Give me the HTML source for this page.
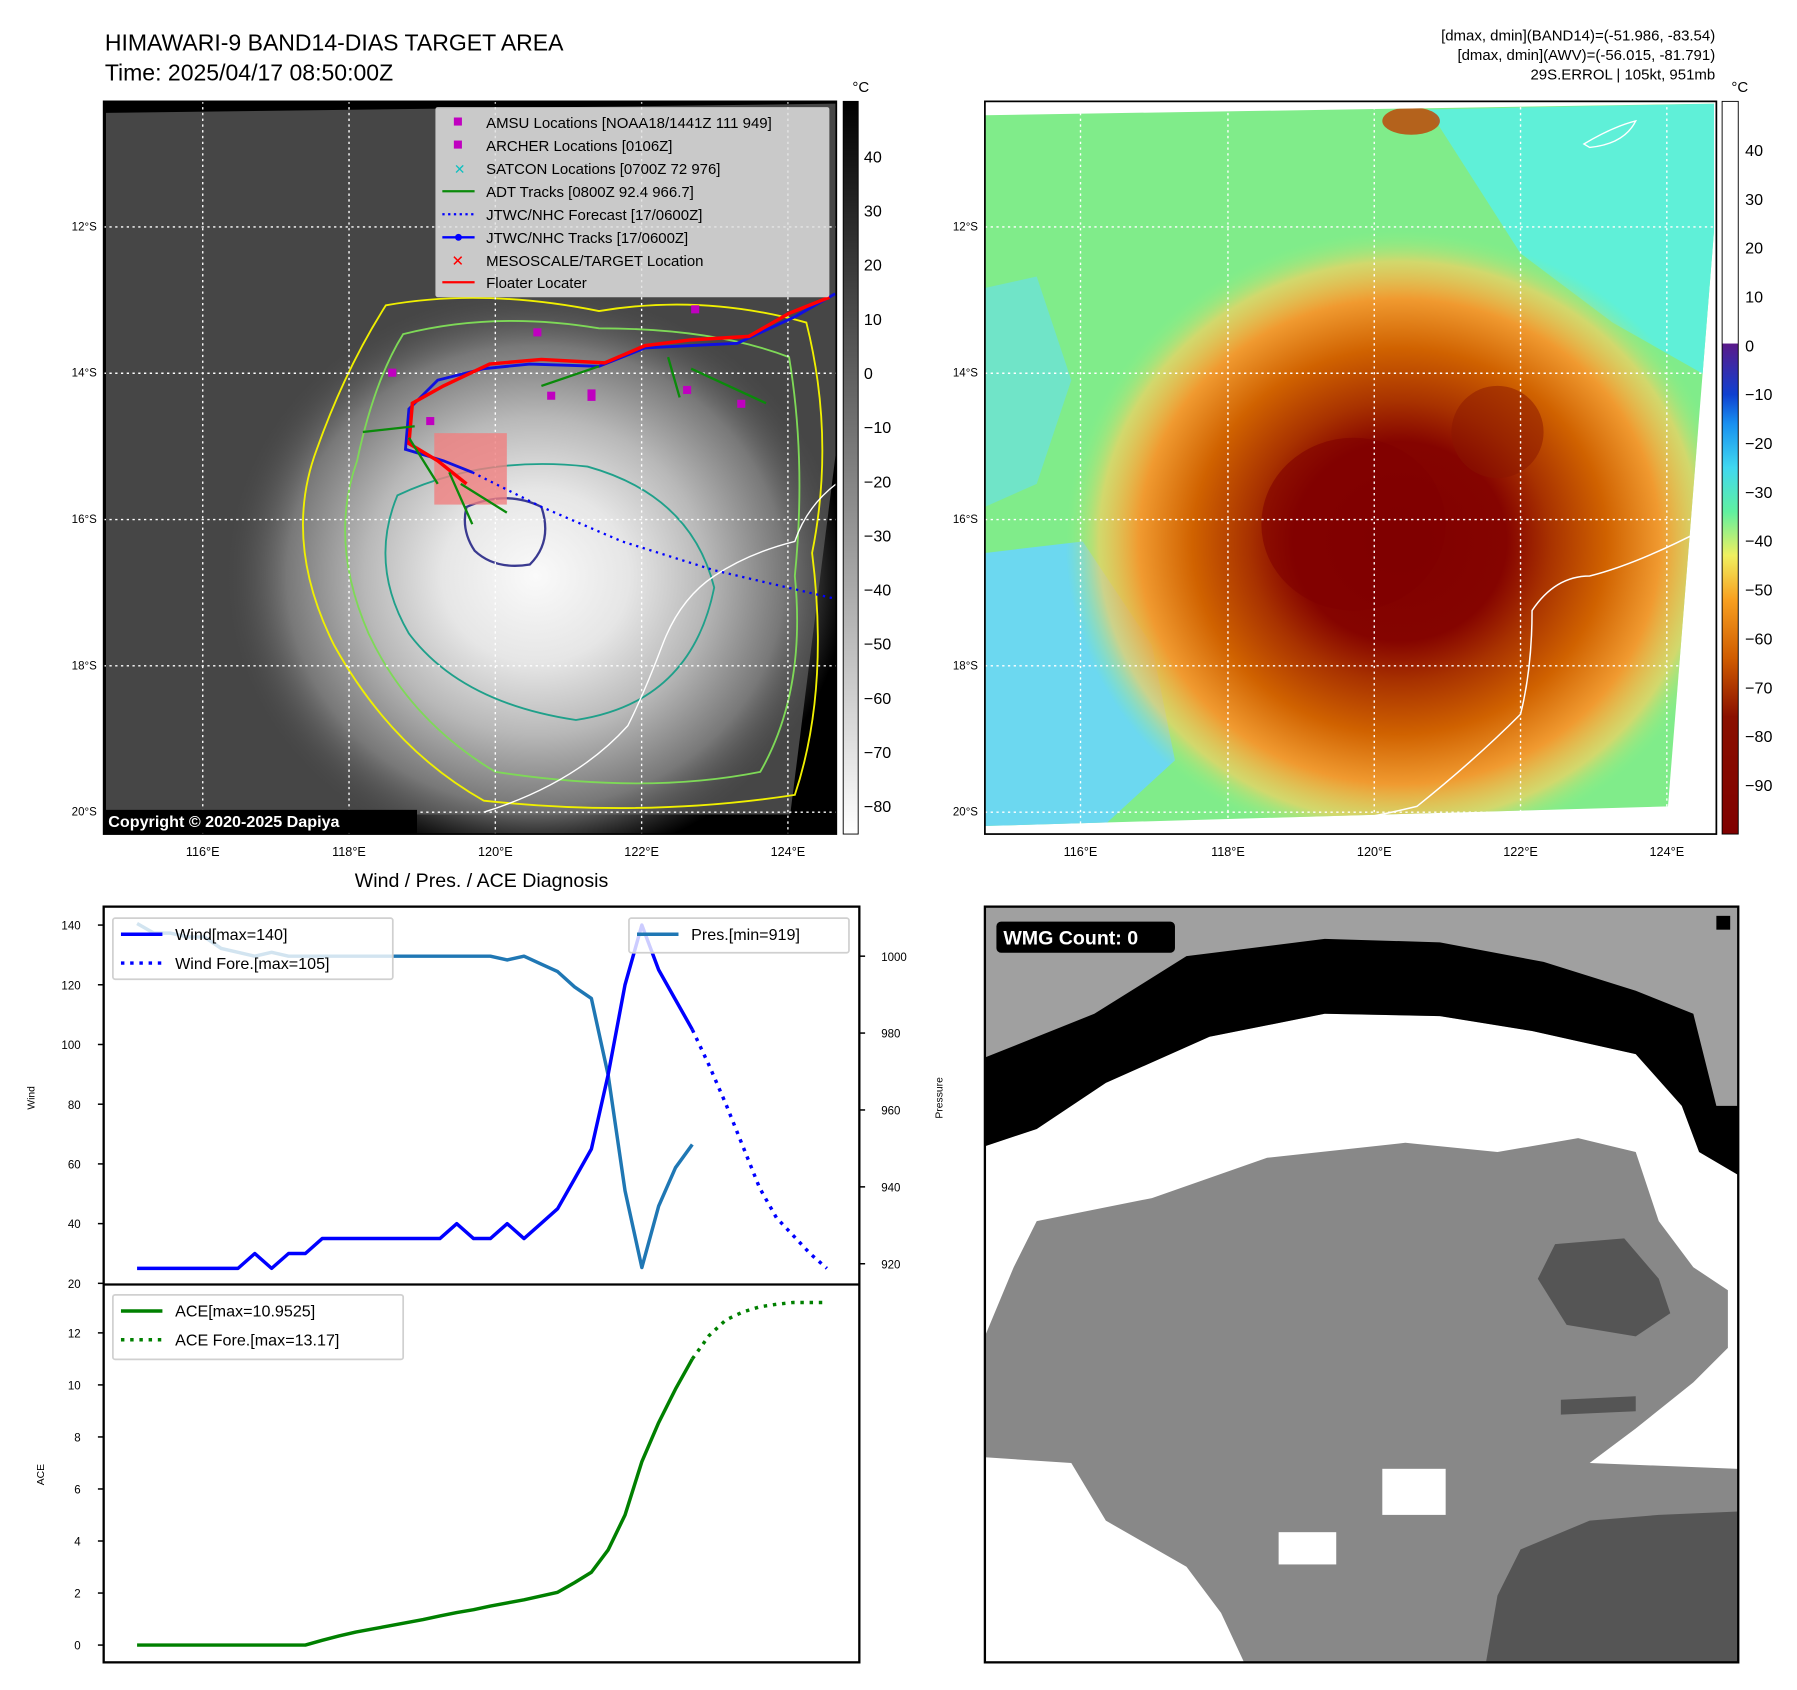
<!DOCTYPE html>
<html><head><meta charset="utf-8"><style>
html,body{margin:0;padding:0;background:#fff}
svg{display:block}
text{font-family:"Liberation Sans","DejaVu Sans",sans-serif}
</style></head><body>
<svg id="fig" width="1797" height="1690" viewBox="0 0 1560 1467" preserveAspectRatio="none" xmlns="http://www.w3.org/2000/svg">
<defs>
<clipPath id="clipL"><rect x="90" y="88" width="636" height="636"/></clipPath>
<clipPath id="clipR"><polygon points="855,100 1488,90 1488,200 1448,700 855,717"/></clipPath>
<radialGradient id="irGlow" cx="0.5" cy="0.5" r="0.5">
<stop offset="0" stop-color="#fafafa"/><stop offset="0.3" stop-color="#e6e6e6"/><stop offset="0.55" stop-color="#b8b8b8"/><stop offset="0.8" stop-color="#787878"/><stop offset="1" stop-color="#4a4a4a" stop-opacity="0"/>
</radialGradient>
<radialGradient id="awv" cx="0.5" cy="0.5" r="0.5">
<stop offset="0" stop-color="#800000"/><stop offset="0.32" stop-color="#850400"/><stop offset="0.45" stop-color="#a83200"/><stop offset="0.62" stop-color="#d06200"/><stop offset="0.78" stop-color="#f09a30"/><stop offset="0.9" stop-color="#f4d060" stop-opacity="0.7"/><stop offset="1" stop-color="#90f080" stop-opacity="0"/>
</radialGradient>
<linearGradient id="cbGray" x1="0" y1="0" x2="0" y2="1"><stop offset="0" stop-color="#000"/><stop offset="1" stop-color="#fff"/></linearGradient>
<linearGradient id="cbAwv" x1="0" y1="0" x2="0" y2="1">
<stop offset="0" stop-color="#fff"/><stop offset="0.33" stop-color="#fff"/><stop offset="0.331" stop-color="#5a1a8a"/><stop offset="0.4" stop-color="#1040d0"/><stop offset="0.44" stop-color="#1890f0"/><stop offset="0.5" stop-color="#40d8f0"/><stop offset="0.56" stop-color="#60f0a0"/><stop offset="0.62" stop-color="#f0f060"/><stop offset="0.68" stop-color="#f8a020"/><stop offset="0.76" stop-color="#d05c00"/><stop offset="0.84" stop-color="#8a1000"/><stop offset="1" stop-color="#800000"/>
</linearGradient>
</defs>

<text x="91" y="44" font-size="20">HIMAWARI-9 BAND14-DIAS TARGET AREA</text>
<text x="91" y="70" font-size="20">Time: 2025/04/17 08:50:00Z</text>
<g font-size="13" text-anchor="end">
<text x="1489" y="35">[dmax, dmin](BAND14)=(-51.986, -83.54)</text>
<text x="1489" y="52">[dmax, dmin](AWV)=(-56.015, -81.791)</text>
<text x="1489" y="69">29S.ERROL | 105kt, 951mb</text>
</g>

<!-- LEFT MAP -->
<g>
<rect x="90" y="88" width="636" height="636" fill="#000"/>
<g clip-path="url(#clipL)">
<polygon points="92,98 726,90 726,390 686,707 92,707" fill="#464646"/>
<ellipse cx="465" cy="500" rx="270" ry="250" fill="url(#irGlow)"/>
<g fill="none" stroke-width="1.6">
<path d="M335,265 Q420,250 520,270 Q610,255 700,280 Q725,380 705,480 Q720,600 690,690 Q560,710 420,695 Q340,650 290,560 Q245,470 275,390 Q300,320 335,265Z" stroke="#f0f000"/>
<path d="M350,290 Q430,270 520,285 Q620,285 685,310 Q700,400 690,500 Q700,600 660,670 Q560,690 430,670 Q355,625 320,550 Q285,470 310,400 Q325,330 350,290Z" stroke="#7ed957"/>
<path d="M345,430 Q420,395 510,405 Q600,430 620,510 Q600,610 500,625 Q400,610 355,550 Q320,490 345,430Z" stroke="#1fa08a"/>
<path d="M405,440 Q440,425 470,440 Q480,470 460,490 Q430,495 412,478 Q400,460 405,440Z" stroke="#3a3a90" stroke-width="2"/>
</g>
<g stroke="#fff" stroke-width="1.2" stroke-dasharray="2,3">
<line x1="176" y1="88" x2="176" y2="724"/><line x1="303" y1="88" x2="303" y2="724"/><line x1="430" y1="88" x2="430" y2="724"/><line x1="557" y1="88" x2="557" y2="724"/><line x1="684" y1="88" x2="684" y2="724"/>
<line x1="90" y1="197" x2="726" y2="197"/><line x1="90" y1="324" x2="726" y2="324"/><line x1="90" y1="451" x2="726" y2="451"/><line x1="90" y1="578" x2="726" y2="578"/><line x1="90" y1="705" x2="726" y2="705"/>
</g>
<path d="M726,420 Q700,440 690,470 Q650,480 620,500 Q590,520 575,560 Q560,600 545,630 Q500,680 420,705" fill="none" stroke="#fff" stroke-width="1.2"/>
<rect x="377" y="376" width="63" height="62" fill="#f08080" opacity="0.8"/>
<polyline points="725,255 690,275 640,298 600,300 560,302 520,318 460,316 420,320 380,330 355,355 352,390 385,400 410,410" fill="none" stroke="#1010e0" stroke-width="2.5"/>
<polyline points="720,258 685,272 650,292 600,295 560,300 525,315 470,312 425,316 385,335 358,350 355,385 380,400 405,420" fill="none" stroke="#f00" stroke-width="3"/>
<g stroke="#0a8a0a" stroke-width="2">
<line x1="315" y1="375" x2="360" y2="370"/><line x1="355" y1="380" x2="380" y2="420"/><line x1="390" y1="410" x2="410" y2="455"/><line x1="400" y1="420" x2="440" y2="445"/><line x1="470" y1="335" x2="520" y2="318"/><line x1="580" y1="310" x2="590" y2="345"/><line x1="600" y1="320" x2="665" y2="350"/>
</g>
<polyline points="410,410 470,440 540,470 620,495 726,520" fill="none" stroke="#00f" stroke-width="2" stroke-dasharray="2,4"/>
<g fill="#c000c0">
<rect x="337" y="320" width="7" height="7"/><rect x="370" y="362" width="7" height="7"/><rect x="475" y="340" width="7" height="7"/><rect x="510" y="338" width="7" height="10"/><rect x="600" y="265" width="7" height="7"/><rect x="640" y="347" width="7" height="7"/><rect x="593" y="335" width="7" height="7"/><rect x="463" y="285" width="7" height="7"/>
</g>
</g>
<g>
<rect x="378" y="93" width="342" height="165" fill="#e0e0e0" opacity="0.85" rx="2"/>
<g font-size="13">
<rect x="394" y="102" width="7" height="7" fill="#c000c0"/><text x="422" y="111">AMSU Locations [NOAA18/1441Z 111 949]</text>
<rect x="394" y="122" width="7" height="7" fill="#c000c0"/><text x="422" y="131">ARCHER Locations [0106Z]</text>
<text x="394" y="151" fill="#10c0c0" font-size="12">✕</text><text x="422" y="151">SATCON Locations [0700Z 72 976]</text>
<line x1="384" y1="166" x2="412" y2="166" stroke="#0a8a0a" stroke-width="2"/><text x="422" y="171">ADT Tracks [0800Z 92.4 966.7]</text>
<line x1="384" y1="186" x2="412" y2="186" stroke="#00f" stroke-width="2" stroke-dasharray="2,3"/><text x="422" y="191">JTWC/NHC Forecast [17/0600Z]</text>
<line x1="384" y1="206" x2="412" y2="206" stroke="#00f" stroke-width="2"/><circle cx="398" cy="206" r="3" fill="#00f"/><text x="422" y="211">JTWC/NHC Tracks [17/0600Z]</text>
<text x="392" y="231" fill="#f00" font-size="13" font-weight="bold">✕</text><text x="422" y="231">MESOSCALE/TARGET Location</text>
<line x1="384" y1="245" x2="412" y2="245" stroke="#f00" stroke-width="2"/><text x="422" y="250">Floater Locater</text>
</g></g>
<rect x="90" y="703" width="272" height="20" fill="#000"/>
<text x="94" y="718" font-size="14" font-weight="bold" fill="#fff">Copyright © 2020-2025 Dapiya</text>
<rect x="90" y="88" width="636" height="636" fill="none" stroke="#000" stroke-width="1.5"/>
</g>
<g font-size="10" text-anchor="end">
<text x="84" y="200">12°S</text><text x="84" y="327">14°S</text><text x="84" y="454">16°S</text><text x="84" y="581">18°S</text><text x="84" y="708">20°S</text>
</g>
<g font-size="11" text-anchor="middle">
<text x="176" y="743">116°E</text><text x="303" y="743">118°E</text><text x="430" y="743">120°E</text><text x="557" y="743">122°E</text><text x="684" y="743">124°E</text>
</g>
<g>
<rect x="732" y="88" width="13" height="636" fill="url(#cbGray)" stroke="#000" stroke-width="0.8"/>
<text x="740" y="80" font-size="13">°C</text>
<g font-size="14" id="cb1"></g>
</g>

<!-- RIGHT MAP -->
<g>
<rect x="855" y="88" width="635" height="636" fill="#fff"/>
<g clip-path="url(#clipR)">
<rect x="855" y="88" width="635" height="636" fill="#80ec8a"/>
<polygon points="1240,95 1488,90 1488,330 1400,280 1320,220" fill="#5ff0d8"/>
<polygon points="855,250 900,240 930,330 900,420 855,440" fill="#70e4c8"/>
<polygon points="855,480 940,470 1000,560 1020,660 960,715 855,717" fill="#6cd8f0"/>
<ellipse cx="1215" cy="470" rx="290" ry="270" fill="url(#awv)"/>
<ellipse cx="1175" cy="455" rx="80" ry="75" fill="#800000" opacity="0.6"/>
<ellipse cx="1300" cy="375" rx="40" ry="40" fill="#8a1500" opacity="0.5"/>
<ellipse cx="1225" cy="105" rx="25" ry="12" fill="#c04000" opacity="0.8"/>
</g>
<g stroke="#fff" stroke-width="1.2" stroke-dasharray="2,3">
<line x1="938" y1="88" x2="938" y2="724"/><line x1="1066" y1="88" x2="1066" y2="724"/><line x1="1193" y1="88" x2="1193" y2="724"/><line x1="1320" y1="88" x2="1320" y2="724"/><line x1="1447" y1="88" x2="1447" y2="724"/>
<line x1="855" y1="197" x2="1490" y2="197"/><line x1="855" y1="324" x2="1490" y2="324"/><line x1="855" y1="451" x2="1490" y2="451"/><line x1="855" y1="578" x2="1490" y2="578"/><line x1="855" y1="705" x2="1490" y2="705"/>
</g>
<path d="M1478,460 Q1420,490 1380,500 Q1350,500 1330,530 Q1330,580 1320,620 Q1280,660 1230,700 Q1180,712 1150,715" fill="none" stroke="#fff" stroke-width="1.3"/>
<path d="M1375,125 Q1400,110 1420,105 Q1410,125 1380,128Z" fill="none" stroke="#fff" stroke-width="1.2"/>
<rect x="855" y="88" width="635" height="636" fill="none" stroke="#000" stroke-width="1.5"/>
</g>
<g font-size="10" text-anchor="end">
<text x="849" y="200">12°S</text><text x="849" y="327">14°S</text><text x="849" y="454">16°S</text><text x="849" y="581">18°S</text><text x="849" y="708">20°S</text>
</g>
<g font-size="11" text-anchor="middle">
<text x="938" y="743">116°E</text><text x="1066" y="743">118°E</text><text x="1193" y="743">120°E</text><text x="1320" y="743">122°E</text><text x="1447" y="743">124°E</text>
</g>
<g>
<rect x="1495" y="88" width="14" height="636" fill="url(#cbAwv)" stroke="#000" stroke-width="0.8"/>
<text x="1503" y="80" font-size="13">°C</text>
<g font-size="14" id="cb2"></g>
</g>

<!-- BOTTOM RIGHT -->
<g>
<rect x="855" y="787" width="654" height="656" fill="#fff"/>
<polygon points="855,787 1509,787 1509,1020 1475,1000 1460,960 1420,915 1330,895 1250,882 1150,880 1050,900 960,940 900,980 855,995" fill="#a0a0a0"/>
<polygon points="855,918 950,880 1030,830 1150,815 1250,818 1340,835 1420,860 1470,880 1490,960 1509,960 1509,1020 1475,1000 1460,960 1420,915 1330,895 1250,882 1150,880 1050,900 960,940 900,980 855,995" fill="#000"/>
<polygon points="880,1100 900,1060 1000,1040 1100,1005 1220,992 1300,1000 1370,988 1420,1000 1440,1060 1470,1100 1500,1120 1500,1170 1470,1200 1420,1240 1380,1270 1509,1275 1509,1443 1080,1443 1060,1400 1030,1360 960,1320 930,1270 855,1265 855,1160" fill="#888"/>
<polygon points="1335,1110 1350,1080 1410,1075 1440,1110 1450,1140 1420,1160 1360,1150" fill="#555"/>
<polygon points="1355,1215 1420,1212 1420,1225 1355,1228" fill="#555"/>
<polygon points="1290,1443 1300,1385 1320,1345 1380,1320 1440,1315 1509,1312 1509,1443" fill="#555"/>
<rect x="1110" y="1330" width="50" height="28" fill="#fff"/>
<rect x="1200" y="1275" width="55" height="40" fill="#fff"/>
<rect x="1490" y="795" width="12" height="12" fill="#000"/>
<rect x="865" y="800" width="155" height="27" rx="4" fill="#000"/>
<text x="871" y="820" font-size="17" font-weight="bold" fill="#fff">WMG Count: 0</text>
<rect x="855" y="787" width="654" height="656" fill="none" stroke="#000" stroke-width="2"/>
</g>

<text x="418" y="770" font-size="17" text-anchor="middle">Wind / Pres. / ACE Diagnosis</text>
<g id="chart"></g>
</svg>
<script>
var NS="http://www.w3.org/2000/svg";
var windObs=[25,25,25,25,25,25,25,30,25,30,30,35,35,35,35,35,35,35,35,40,35,35,40,35,40,45,55,65,90,120,140,125,115,105];
var windFore=[105,93,80,66,52,42,36,30,25];
var presObs=[1008.5,1006,1006,1005,1005,1002,1001,1000,1001,1000,1000,1000,1000,1000,1000,1000,1000,1000,1000,1000,1000,1000,999,1000,998,996,992,989,969,939,919,935,945,951];
var aceObs=[0,0,0,0,0,0,0,0,0,0,0,0.18,0.35,0.5,0.62,0.74,0.86,0.98,1.12,1.25,1.36,1.5,1.62,1.74,1.88,2.03,2.4,2.8,3.66,5.0,7.05,8.55,9.84,11.0];
var aceFore=[11.0,11.9,12.5,12.8,13.0,13.1,13.17,13.17,13.17];
var windTicks=[20,40,60,80,100,120,140];
var presTicks=[920,940,960,980,1000];
var aceTicks=[0,2,4,6,8,10,12];
var cb1Ticks=[40,30,20,10,0,-10,-20,-30,-40,-50,-60,-70,-80];
var cb2Ticks=[40,30,20,10,0,-10,-20,-30,-40,-50,-60,-70,-80,-90];

function X(i){return 119+i*14.606;}
function YW(v){return 1114-(v-20)*311/120;}
function YP(v){return 830+(1000-v)*3.3375;}
function YA(v){return 1428-v*271/12;}
function mk(tag,attrs,parent){var e=document.createElementNS(NS,tag);for(var k in attrs)e.setAttribute(k,attrs[k]);parent.appendChild(e);return e;}
function minus(v){return (v<0?"\u2212"+(-v):""+v);}

var cb1=document.getElementById('cb1');
cb1Ticks.forEach(function(v){var y=324-v*4.7;
var t=mk('text',{x:750,y:y+5},cb1);t.textContent=minus(v);

});
var cb2=document.getElementById('cb2');
cb2Ticks.forEach(function(v){var y=300-v*4.24;
var t=mk('text',{x:1515,y:y+5},cb2);t.textContent=minus(v);

});

var g=document.getElementById('chart');
mk('rect',{x:90,y:787,width:656,height:656,fill:'#fff',stroke:'#000','stroke-width':2},g);
mk('line',{x1:90,y1:1115,x2:746,y2:1115,stroke:'#000','stroke-width':2},g);
function line(arr,off,fy,color,dash,name){
  var pts=arr.map(function(v,i){return X(i+off).toFixed(1)+','+fy(v).toFixed(1);}).join(' ');
  var p=mk('polyline',{points:pts,fill:'none',stroke:color,'stroke-width':3,'stroke-linejoin':'round'},g);
  if(dash)p.setAttribute('stroke-dasharray','3,5');
  
  
}
line(presObs,0,YP,'#1f77b4',false,'pressure-line');
line(windObs,0,YW,'#0000ff',false,'wind-line');
line(windFore,33,YW,'#0000ff',true,'wind-forecast-line');
line(aceObs,0,YA,'#008000',false,'ace-line');
line(aceFore,33,YA,'#008000',true,'ace-forecast-line');

function ticks(arr,fy,side,name){arr.forEach(function(v){var y=fy(v);var t;
  if(side==='l'){mk('line',{x1:85,y1:y,x2:90,y2:y,stroke:'#000','stroke-width':1.3},g);
    t=mk('text',{x:70,y:y+4,'font-size':10,'text-anchor':'end'},g);}
  else{mk('line',{x1:746,y1:y,x2:751,y2:y,stroke:'#000','stroke-width':1.3},g);
    t=mk('text',{x:765,y:y+4,'font-size':10},g);}
  t.textContent=v;
  
  });}
ticks(windTicks,YW,'l','wind-tick-label');
ticks(presTicks,YP,'r','pressure-tick-label');
ticks(aceTicks,YA,'l','ace-tick-label');

function rotLabel(txt,x,y,name){var t=mk('text',{x:x,y:y,'font-size':9,'text-anchor':'middle',transform:'rotate(-90 '+x+' '+y+')'},g);t.textContent=txt;
  
  }
rotLabel('Wind',30,953,'wind-axis-title');
rotLabel('Pressure',818,953,'pressure-axis-title');
rotLabel('ACE',38,1280,'ace-axis-title');

function legend(x,y,w,h,items,name){var lg=mk('g',{},g);
  
  
  mk('rect',{x:x,y:y,width:w,height:h,fill:'#fff','fill-opacity':0.8,stroke:'#d0d0d0','stroke-width':1.5,rx:2},lg);
  items.forEach(function(it,i){var yy=y+14+i*25;
    var l=mk('line',{x1:x+7,y1:yy,x2:x+43,y2:yy,stroke:it[1],'stroke-width':3},lg);
    if(it[2])l.setAttribute('stroke-dasharray','3,5');
    var t=mk('text',{x:x+54,y:yy+5,'font-size':14},lg);t.textContent=it[0];});}
legend(98,797,243,53,[['Wind[max=140]','#0000ff',false],['Wind Fore.[max=105]','#0000ff',true]],'wind-legend');
legend(546,797,191,30,[['Pres.[min=919]','#1f77b4',false]],'pressure-legend');
legend(98,1124,252,56,[['ACE[max=10.9525]','#008000',false],['ACE Fore.[max=13.17]','#008000',true]],'ace-legend');
</script>
</body></html>
